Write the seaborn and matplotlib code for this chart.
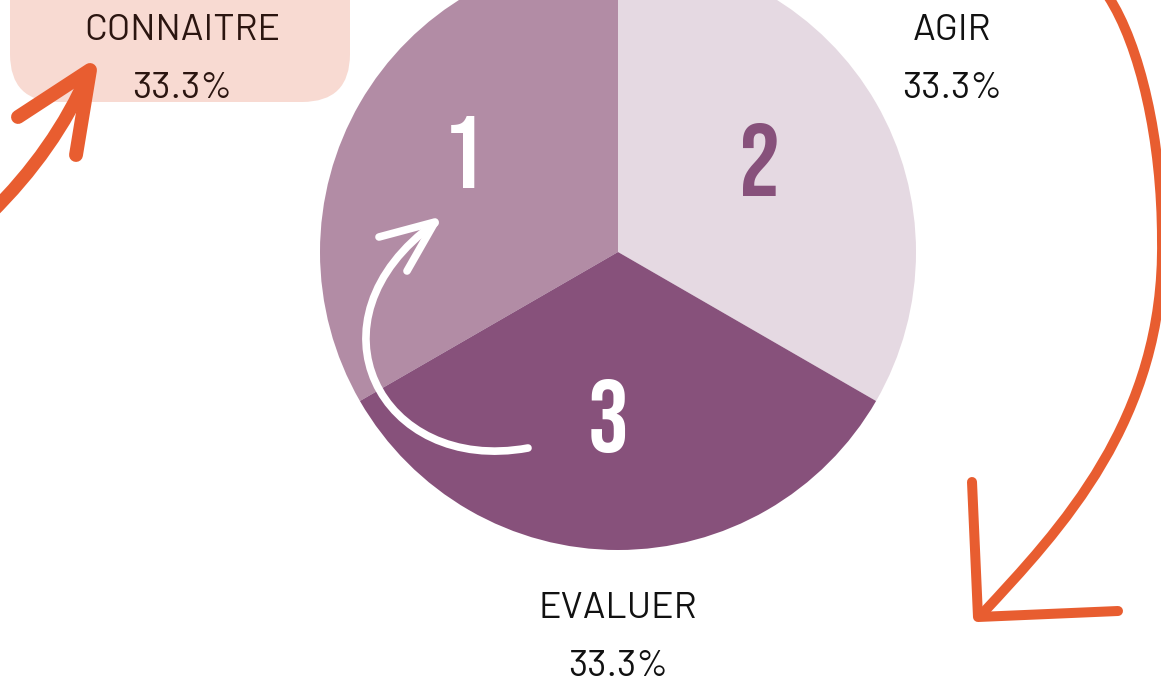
import matplotlib
matplotlib.use("Agg")
import matplotlib.pyplot as plt
import seaborn as sns
import numpy as np
from matplotlib.path import Path
from matplotlib.patches import PathPatch, FancyBboxPatch

# ---- data ----
categories = ["CONNAITRE", "AGIR", "EVALUER"]
values = [33.3, 33.3, 33.3]
step_numbers = ["1", "2", "3"]
pct_labels = ["33.3%", "33.3%", "33.3%"]
slice_colors = ["#B28CA5", "#E5D9E2", "#87517B"]
number_colors = ["white", "#87517B", "white"]

sns.set_theme(style="white")
label_fonts = ['Barlow', 'Barlow Semi Condensed', 'Saira SemiCondensed', 'DejaVu Sans']
number_fonts = ['Bebas Neue', 'Oswald', 'Antonio', 'DejaVu Sans']
plt.rcParams['font.family'] = label_fonts

W, H = 1161, 683
fig = plt.figure(figsize=(W / 100, H / 100), dpi=100)
ax = fig.add_axes([0, 0, 1, 1])

cx, cy, R = 618, 252, 298
ax.pie(values, colors=slice_colors, startangle=150, counterclock=True,
       center=(cx, cy), radius=R, frame=True,
       wedgeprops=dict(linewidth=0))

ax.set_xlim(0, W)
ax.set_ylim(H, 0)
ax.set_aspect("equal")
ax.axis("off")

# pink label box
box = FancyBboxPatch((10, -60), 340, 162, boxstyle="round,pad=0,rounding_size=48",
                     facecolor="#F8DAD2", edgecolor="none", zorder=1)
ax.add_patch(box)

# labels
label_pos = [(182, 30), (952, 30), (618, 609)]
label_cols = ["#2B1510", "#111111", "#111111"]
for (x, y), cat, pct, c in zip(label_pos, categories, pct_labels, label_cols):
    ax.text(x, y, cat, ha="center", va="center", fontsize=27, color=c,
            family=label_fonts, fontweight="normal", zorder=5)
    ax.text(x, y + 58, pct, ha="center", va="center", fontsize=27, color=c,
            family=label_fonts, fontweight="normal", zorder=5)

# step numbers
num_pos = [(463, 152), (760, 160), (608, 416)]
for (x, y), n, c in zip(num_pos, step_numbers, number_colors):
    ax.text(x, y, n, ha="center", va="center", fontsize=74,
            family=number_fonts, color=c, zorder=5)

orange = "#E85D30"

def path_stroke(verts, codes, color, lw):
    p = PathPatch(Path(verts, codes), facecolor="none", edgecolor=color, lw=lw,
                  capstyle="round", joinstyle="round", zorder=6)
    ax.add_patch(p)

def poly(pts, color, lw):
    pts = np.array(pts)
    ax.plot(pts[:, 0], pts[:, 1], color=color, lw=lw, solid_capstyle="round",
            solid_joinstyle="round", zorder=6)

C4 = Path.CURVE4
C3 = Path.CURVE3

# right orange arrow (two cubic segments)
path_stroke([(1108, -4), (1140, 45), (1162, 140), (1162, 240),
             (1165, 420), (1060, 530), (982, 614)],
            [Path.MOVETO, C4, C4, C4, C4, C4, C4], orange, 7.2)
poly([(972, 482), (978, 617), (1118, 611)], orange, 7.2)

# left orange arrow
path_stroke([(-10, 214), (55, 150), (88, 74)], [Path.MOVETO, C3, C3], orange, 9.5)
poly([(18, 117), (90, 70), (76, 155)], orange, 10)

# white arrow inside
path_stroke([(528, 448), (380, 475), (300, 320), (435, 223)],
            [Path.MOVETO, C4, C4, C4], "white", 5.5)
poly([(379, 237), (435, 222), (407, 271)], "white", 5.5)

fig.savefig("out.png", dpi=100)
